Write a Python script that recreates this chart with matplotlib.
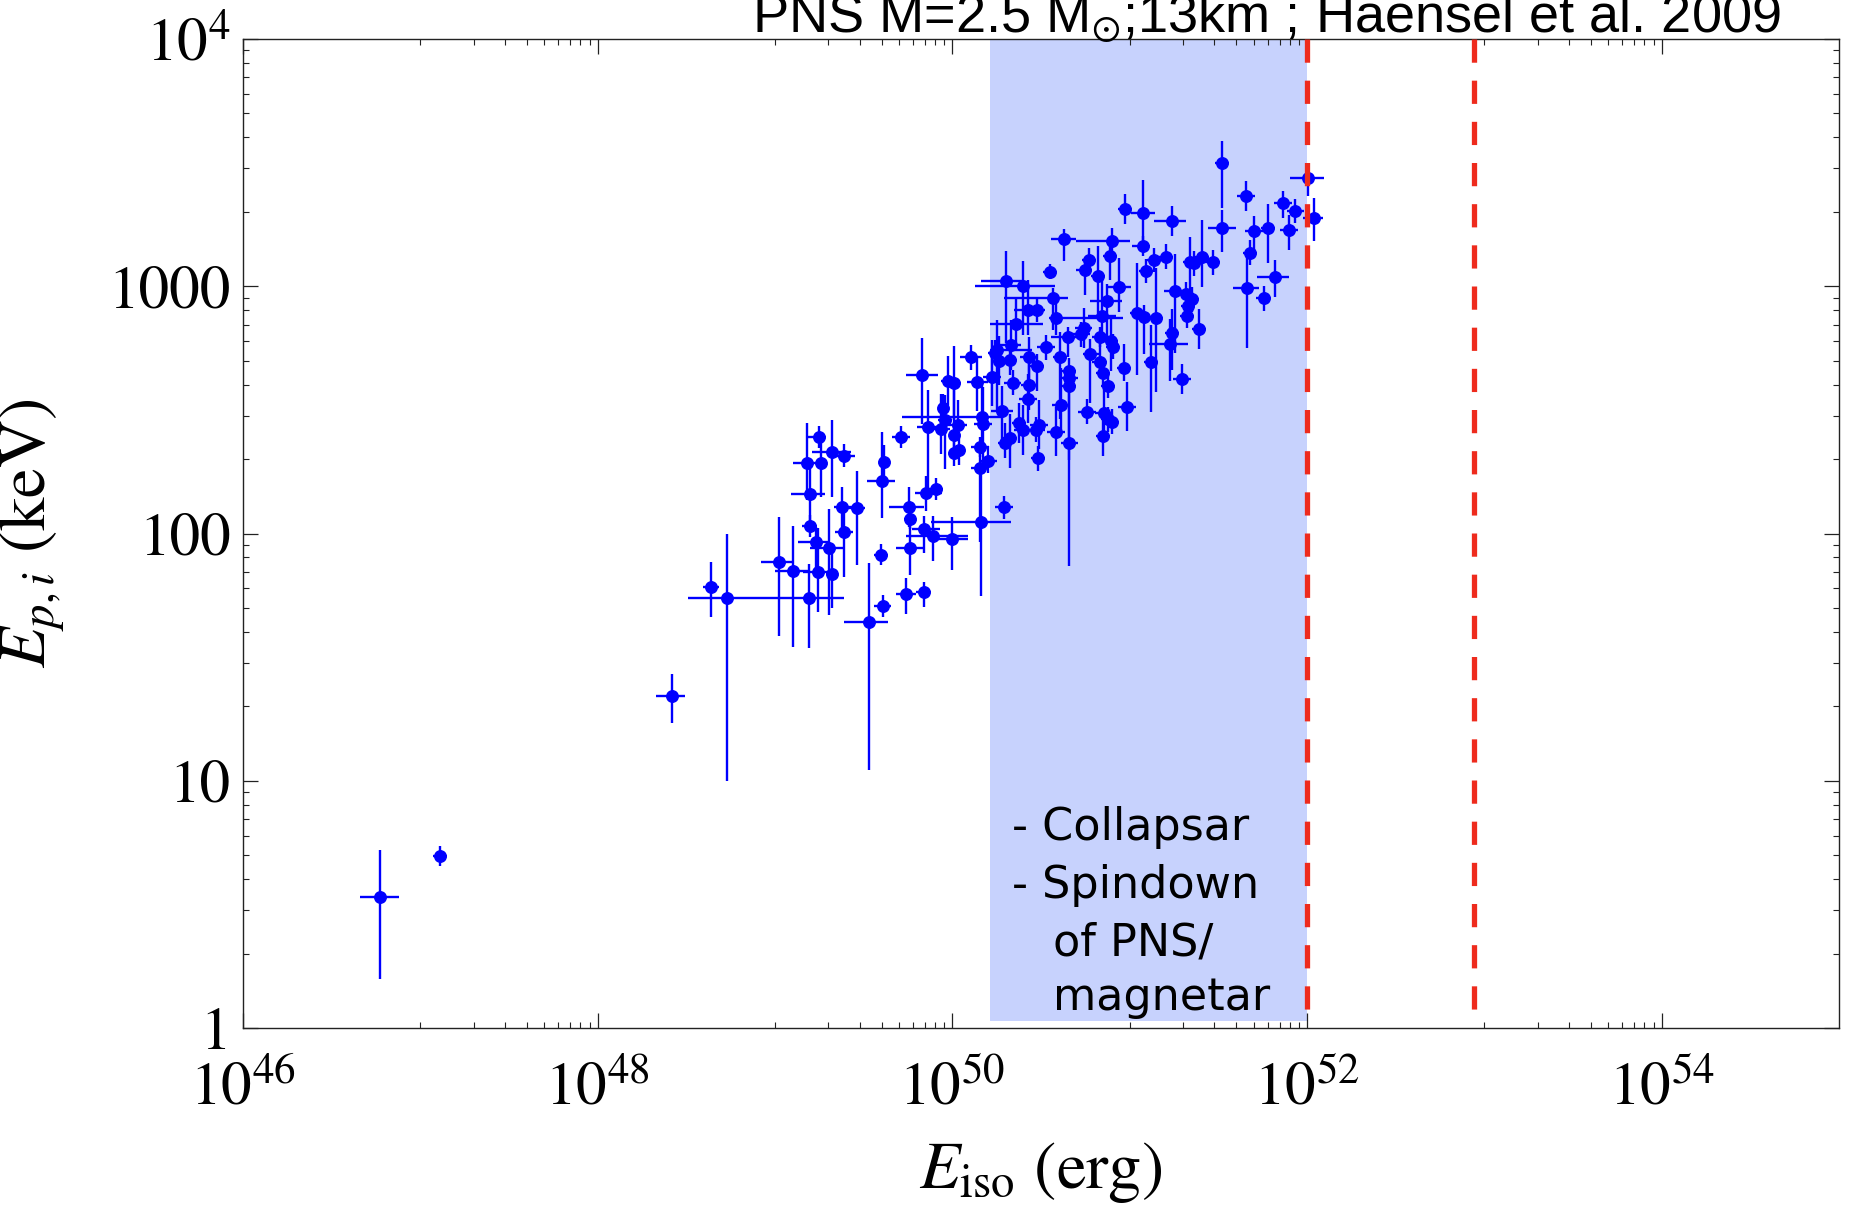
import numpy as np
import matplotlib
matplotlib.use("Agg")
import matplotlib.pyplot as plt
from matplotlib.ticker import FixedLocator, FixedFormatter, NullFormatter

plt.rcParams["font.family"] = "STIXGeneral"
plt.rcParams["mathtext.fontset"] = "stix"

# log10 E_iso [erg]
lg_eiso = [
    46.77, 47.11, 48.42, 48.64, 48.73, 49.02, 49.10, 49.19, 49.24, 49.32,
    49.305, 49.23, 49.195, 49.20, 49.18, 49.26, 49.25, 49.32, 49.39, 49.38,
    49.39, 49.46, 49.53, 49.60, 49.61, 49.605, 49.615, 49.71, 49.74, 49.84,
    49.76, 49.755, 49.76, 49.84, 49.89, 50.00, 50.16, 50.29, 49.85, 49.91,
    49.86, 49.935, 49.95, 49.96, 50.03, 50.01, 50.01, 50.035, 50.165, 50.175,
    50.155, 50.155, 50.20, 50.28, 50.295, 50.325, 50.63, 50.90, 51.075, 50.89,
    50.77, 50.75, 50.82, 50.55, 51.14, 51.09, 50.30, 50.40, 50.94, 50.57,
    50.875, 50.425, 50.48, 50.585, 50.845, 51.04, 51.08, 51.15, 50.36, 50.74,
    50.725, 50.655, 50.835, 50.895, 50.905, 50.53, 50.33, 50.25, 50.24, 50.105,
    50.265, 50.325, 50.43, 50.605, 50.775, 50.475, 50.66, 50.83, 50.85, 50.97,
    51.12, 50.66, 50.66, 50.88, 50.435, 50.34, 50.225, 50.14, 50.01, 49.975,
    49.83, 50.425, 50.61, 50.985, 50.76, 50.855, 50.88, 50.90, 50.49, 50.47,
    50.375, 50.585, 50.40, 50.66, 50.85, 50.485, 51.52, 51.52, 51.655, 51.865,
    51.935, 52.005, 52.04, 51.70, 51.78, 51.90, 51.68, 51.66, 51.82, 51.755,
    50.975, 51.075, 51.24, 51.205, 51.34, 51.36, 51.41, 51.47, 51.255, 51.32,
    51.35, 51.33, 51.325, 51.39, 51.24, 51.23, 51.295,
]
# log10 E_p,i [keV]
lg_ep = [
    0.53, 0.695, 1.343, 1.784, 1.738, 1.885, 1.85, 1.738, 1.844, 1.837,
    1.94, 1.966, 2.03, 2.159, 2.286, 2.286, 2.389, 2.328, 2.315, 2.108,
    2.006, 2.102, 1.642, 1.913, 1.707, 2.211, 2.288, 2.389, 1.754, 1.762,
    1.943, 2.108, 2.06, 2.02, 1.99, 1.977, 2.047, 2.108, 2.163, 2.18,
    2.429, 2.423, 2.506, 2.459, 2.439, 2.398, 2.324, 2.338, 2.473, 2.442,
    2.349, 2.266, 2.294, 2.497, 2.365, 2.385, 3.191, 3.184, 3.164, 3.124,
    3.106, 3.066, 3.043, 3.059, 3.106, 3.062, 3.021, 3.002, 2.996, 2.954,
    2.94, 2.904, 2.904, 2.873, 2.88, 2.893, 2.874, 2.873, 2.847, 2.832,
    2.806, 2.794, 2.796, 2.779, 2.756, 2.753, 2.763, 2.742, 2.731, 2.713,
    2.699, 2.702, 2.714, 2.715, 2.726, 2.676, 2.658, 2.692, 2.648, 2.668,
    2.692, 2.628, 2.598, 2.598, 2.601, 2.61, 2.634, 2.614, 2.61, 2.618,
    2.641, 2.546, 2.519, 2.513, 2.492, 2.489, 2.462, 2.452, 2.44, 2.42,
    2.448, 2.412, 2.418, 2.367, 2.395, 2.304, 3.497, 3.237, 3.365, 3.335,
    3.304, 3.437, 3.275, 3.225, 3.234, 3.227, 3.136, 2.992, 3.036, 2.951,
    3.312, 3.298, 3.264, 3.12, 3.10, 3.093, 3.117, 3.097, 2.982, 2.969,
    2.947, 2.92, 2.88, 2.826, 2.81, 2.767, 2.624,
]
# error bars in dex (lower / upper)
eiso_lo = [
    .11, .04, .09, .045, .22, .10, .10, .03, .08, .03,
    .11, .10, .04, .11, .08, .03, .07, .11, .06, .05,
    .05, .05, .14, .04, .05, .085, .03, .05, .055, .045,
    .08, .11, .03, .07, .15, .11, .28, .05, .06, .05,
    .06, .05, .03, .04, .05, .03, .03, .03, .45, .05,
    .05, .05, .05, .06, .04, .04, .075, .20, .06, .04,
    .04, .05, .04, .04, .04, .04, .14, .27, .06, .28,
    .10, .08, .04, .04, .08, .04, .04, .04, .15, .05,
    .05, .10, .05, .04, .04, .05, .06, .04, .04, .06,
    .04, .04, .05, .04, .04, .04, .04, .04, .04, .04,
    .04, .04, .04, .04, .05, .05, .05, .06, .04, .04,
    .09, .05, .05, .05, .05, .05, .04, .04, .05, .10,
    .04, .05, .05, .05, .04, .04, .04, .08, .05, .05,
    .05, .10, .06, .05, .04, .05, .04, .08, .10, .04,
    .04, .07, .10, .04, .04, .04, .04, .04, .06, .04,
    .04, .04, .04, .04, .04, .12, .05,
]
eiso_hi = [
    .11, .04, .07, .045, .66, .085, .085, .03, .08, .03,
    .085, .08, .04, .08, .08, .03, .04, .11, .06, .08,
    .05, .05, .11, .04, .045, .07, .03, .05, .055, .04,
    .08, .085, .03, .09, .20, .09, .17, .05, .09, .04,
    .06, .05, .03, .04, .05, .03, .03, .03, .12, .05,
    .05, .05, .05, .06, .04, .04, .07, .10, .04, .04,
    .04, .04, .04, .04, .04, .04, .10, .18, .07, .08,
    .08, .04, .04, .38, .08, .04, .04, .04, .15, .05,
    .05, .05, .05, .04, .04, .05, .06, .20, .04, .06,
    .04, .04, .05, .04, .05, .04, .04, .04, .04, .04,
    .04, .05, .04, .04, .05, .05, .05, .06, .04, .04,
    .09, .05, .05, .05, .05, .05, .04, .04, .05, .05,
    .04, .05, .05, .05, .04, .04, .04, .08, .05, .05,
    .05, .09, .05, .05, .04, .05, .04, .07, .08, .04,
    .04, .07, .08, .04, .04, .04, .04, .04, .04, .04,
    .04, .04, .04, .04, .04, .10, .05,
]
ep_lo = [
    .33, .04, .11, .12, .74, .30, .31, .20, .16, .14,
    .27, .14, .045, .13, .15, .14, .045, .18, .045, .08,
    .18, .23, .60, .04, .045, .15, .07, .045, .08, .06,
    .11, .08, .04, .10, .10, .125, .30, .05, .07, .045,
    .25, .10, .06, .20, .06, .10, .05, .06, .15, .20,
    .04, .30, .05, .15, .06, .12, .09, .05, .04, .10,
    .05, .10, .15, .03, .05, .05, .25, .20, .10, .13,
    .15, .10, .05, .07, .08, .25, .15, .30, .10, .08,
    .05, .08, .04, .12, .05, .05, .10, .25, .05, .05,
    .10, .06, .10, .25, .20, .10, .05, .05, .05, .05,
    .20, .05, .30, .05, .10, .05, .12, .12, .15, .10,
    .20, .10, .10, .10, .05, .10, .05, .05, .10, .05,
    .08, .10, .10, .50, .08, .05, .18, .10, .06, .06,
    .05, .07, .09, .08, .14, .08, .05, .24, .08, .05,
    .06, .11, .06, .05, .15, .05, .12, .05, .25, .05,
    .05, .05, .05, .08, .15, .15, .06,
]
ep_hi = [
    .19, .04, .09, .10, .26, .18, .18, .14, .18, .10,
    .16, .06, .045, .13, .16, .08, .045, .13, .045, .08,
    .10, .15, .24, .045, .045, .20, .07, .045, .067, .04,
    .11, .08, .04, .05, .08, .09, .20, .045, .07, .045,
    .15, .14, .06, .10, .10, .20, .05, .06, .15, .15,
    .04, .10, .06, .10, .08, .10, .04, .05, .04, .05,
    .05, .05, .12, .03, .05, .05, .12, .10, .12, .04,
    .07, .12, .05, .08, .15, .20, .05, .20, .10, .08,
    .05, .04, .04, .10, .05, .05, .10, .12, .05, .05,
    .10, .06, .08, .10, .06, .05, .05, .10, .05, .10,
    .15, .05, .05, .05, .10, .05, .15, .10, .15, .10,
    .15, .10, .15, .10, .05, .10, .05, .05, .10, .05,
    .08, .10, .10, .25, .08, .05, .09, .07, .06, .05,
    .05, .04, .08, .06, .10, .06, .05, .15, .07, .05,
    .06, .13, .06, .05, .10, .05, .15, .05, .15, .05,
    .05, .05, .05, .08, .10, .10, .06,
]

band_eiso = (1.64e50, 1.0e52)        # shaded "collapsar / magnetar" range
limit_eiso = [1.0e52, 8.7e52]         # dashed energy limits
band_ep = (1.07, 1.0e4)

title_text = r"PNS M=2.5 M$_{\odot}$;13km ; Haensel et al. 2009"
band_lines = ["- Collapsar", "- Spindown", "of PNS/", "magnetar"]

x_major = [1e46, 1e48, 1e50, 1e52, 1e54]
x_major_labels = [r"$10^{46}$", r"$10^{48}$", r"$10^{50}$", r"$10^{52}$", r"$10^{54}$"]
y_major = [1, 10, 100, 1000, 1e4]
y_major_labels = ["1", "10", "100", "1000", r"$10^{4}$"]

lx = np.array(lg_eiso)
ly = np.array(lg_ep)
x = 10 ** lx
y = 10 ** ly
xerr = [x - 10 ** (lx - np.array(eiso_lo)), 10 ** (lx + np.array(eiso_hi)) - x]
yerr = [y - 10 ** (ly - np.array(ep_lo)), 10 ** (ly + np.array(ep_hi)) - y]

fig = plt.figure(figsize=(18.57, 12.07), dpi=100)
ax = fig.add_axes([243 / 1857, 179 / 1207, 1596 / 1857, 989 / 1207])
ax.set_xscale("log")
ax.set_yscale("log")
ax.set_xlim(1e46, 1e55)
ax.set_ylim(1, 1e4)

ax.fill_between(band_eiso, band_ep[0], band_ep[1], color="#c7d2fd", lw=0, zorder=0)

ax.errorbar(x, y, xerr=xerr, yerr=yerr, fmt="o", color="#0000ff", ms=8.3,
            elinewidth=1.7, capsize=0, zorder=2)

for xv in limit_eiso:
    ax.plot([xv, xv], [band_ep[1], band_ep[0]], color="#ee2b1d", lw=3.8,
            dashes=(4.4, 3.4), solid_capstyle="butt", zorder=3)

# band annotation
ann_x = [0.482, 0.482, 0.5075, 0.5075]
ann_y = [0.190, 0.1314, 0.0738, 0.0182]
for s, tx, ty in zip(band_lines, ann_x, ann_y):
    ax.text(tx, ty, s, transform=ax.transAxes, fontsize=32,
            family="DejaVu Sans", va="baseline", ha="left", zorder=4)

fig.text(752 / 1857, (1207 - 33) / 1207, title_text, fontsize=39,
         family=["Liberation Sans", "DejaVu Sans"], va="baseline", ha="left")

# ticks
minor_x = [k * 10.0 ** e for e in (47, 49, 51, 53) for k in range(1, 10)]
ax.xaxis.set_major_locator(FixedLocator(x_major))
ax.xaxis.set_major_formatter(FixedFormatter(x_major_labels))
ax.xaxis.set_minor_locator(FixedLocator(minor_x))
ax.xaxis.set_minor_formatter(NullFormatter())
minor_y = [k * 10.0 ** e for e in range(0, 4) for k in range(2, 10)]
ax.yaxis.set_major_locator(FixedLocator(y_major))
ax.yaxis.set_major_formatter(FixedFormatter(y_major_labels))
ax.yaxis.set_minor_locator(FixedLocator(minor_y))
ax.yaxis.set_minor_formatter(NullFormatter())

ax.tick_params(which="both", direction="in", top=True, right=True, color="#222222")
ax.tick_params(which="major", length=10.5, width=0.9)
ax.tick_params(which="minor", length=4.6, width=0.8)
ax.tick_params(axis="x", which="major", labelsize=44, pad=24)
ax.tick_params(axis="y", which="major", labelsize=44, pad=9)
for sp in ax.spines.values():
    sp.set_color("#222222")
    sp.set_linewidth(1.0)

ax.set_xlabel(r"$E_{\rm iso}$ (erg)", fontsize=48)
ax.set_ylabel(r"$E_{p,i}$ (keV)", fontsize=48)
ax.xaxis.set_label_coords(0.5, -0.113)
ax.yaxis.set_label_coords(-0.110, 0.5)

fig.savefig("out.png", dpi=100)
